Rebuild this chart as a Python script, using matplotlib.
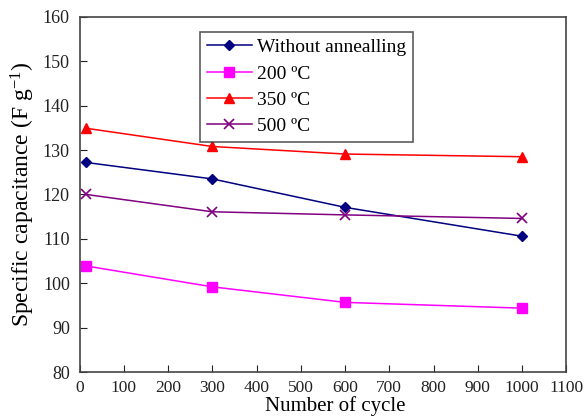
"""Specific capacitance vs. cycle number for different annealing temperatures."""

import matplotlib
import matplotlib.pyplot as plt

matplotlib.use("Agg")

plt.rcParams["font.family"] = ["Liberation Serif", "DejaVu Serif"]
plt.rcParams["mathtext.fontset"] = "custom"
plt.rcParams["mathtext.rm"] = "Liberation Serif"
plt.rcParams["mathtext.it"] = "Liberation Serif:italic"

cycles = [15, 300, 600, 1000]
without_annealing = [127.2, 123.5, 117.1, 110.6]
t200 = [103.9, 99.2, 95.7, 94.4]
t350 = [134.9, 130.8, 129.1, 128.5]
t500 = [120.0, 116.1, 115.4, 114.6]

labels = ["Without annealling", "200 ºC", "350 ºC", "500 ºC"]
xticks = list(range(0, 1101, 100))
yticks = list(range(80, 161, 10))

fig = plt.figure(figsize=(5.85, 4.2), dpi=100)
ax = fig.add_axes([0.136, 0.114, 0.832, 0.846])

ax.plot(cycles, without_annealing, color="#000080", marker="D", markersize=5.5,
        linewidth=1.1, label=labels[0])
ax.plot(cycles, t200, color="#FF00FF", marker="s", markersize=7,
        linewidth=1.1, label=labels[1])
ax.plot(cycles, t350, color="#FF0000", marker="^", markersize=7.5,
        linewidth=1.1, label=labels[2])
ax.plot(cycles, t500, color="#800080", marker="x", markersize=7.5,
        markeredgewidth=1.2, linewidth=1.1, label=labels[3])

ax.set_xlim(0, 1100)
ax.set_ylim(80, 160)
ax.set_xticks(xticks)
ax.set_yticks(yticks)
ax.tick_params(direction="in", length=5, colors="#222222")
ax.tick_params(axis="x", labelsize=12.5, pad=6)
ax.tick_params(axis="y", labelsize=13, pad=7)
for s in ax.spines.values():
    s.set_color("#444444")
    s.set_linewidth(1.2)

ax.set_xlabel("Number of cycle", fontsize=15, va="top")
ax.xaxis.set_label_coords(0.525, -0.068, transform=ax.transAxes)
ax.set_ylabel("Specific capacitance (F g$^{-1}$)", fontsize=17, labelpad=4)

leg = ax.legend(loc="upper left", bbox_to_anchor=(0.248, 0.958), fontsize=14,
                frameon=True, fancybox=False, edgecolor="#333333",
                borderpad=0.35, labelspacing=0.45, handlelength=2.3,
                handletextpad=0.25, borderaxespad=0)
leg.get_frame().set_linewidth(1.2)

plt.savefig("out.png", dpi=100)
plt.close(fig)
